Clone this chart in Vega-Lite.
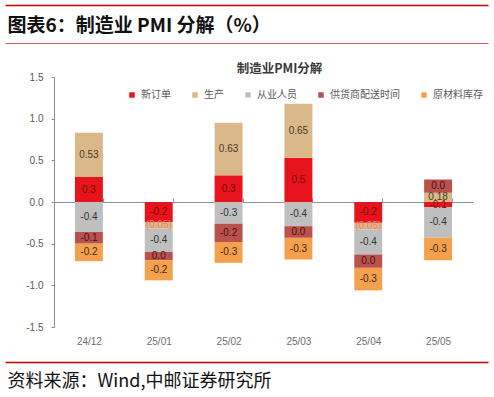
{
  "$schema": "https://vega.github.io/schema/vega-lite/v6.json",
  "width": 483,
  "height": 357,
  "autosize": "none",
  "padding": {"left": 5, "top": 5, "right": 6, "bottom": 35},
  "background": "white",
  "config": {"view": {"stroke": null}},
  "layer": [
    {
      "data": {"values": [
        {"month": "24/12", "series": "新订单", "value": 0.30, "label": "0.3"},
        {"month": "24/12", "series": "生产", "value": 0.53, "label": "0.53"},
        {"month": "24/12", "series": "从业人员", "value": -0.36, "label": "-0.4"},
        {"month": "24/12", "series": "供货商配送时间", "value": -0.14, "label": "-0.1"},
        {"month": "24/12", "series": "原材料库存", "value": -0.21, "label": "-0.2"},
        {"month": "25/01", "series": "新订单", "value": -0.24, "label": "-0.2"},
        {"month": "25/01", "series": "生产", "value": -0.08, "label": "(0.05)"},
        {"month": "25/01", "series": "从业人员", "value": -0.28, "label": "-0.4"},
        {"month": "25/01", "series": "供货商配送时间", "value": -0.10, "label": "0.0"},
        {"month": "25/01", "series": "原材料库存", "value": -0.24, "label": "-0.2"},
        {"month": "25/02", "series": "新订单", "value": 0.32, "label": "0.3"},
        {"month": "25/02", "series": "生产", "value": 0.63, "label": "0.63"},
        {"month": "25/02", "series": "从业人员", "value": -0.26, "label": "-0.3"},
        {"month": "25/02", "series": "供货商配送时间", "value": -0.22, "label": "-0.2"},
        {"month": "25/02", "series": "原材料库存", "value": -0.25, "label": "-0.3"},
        {"month": "25/03", "series": "新订单", "value": 0.53, "label": "0.5"},
        {"month": "25/03", "series": "生产", "value": 0.65, "label": "0.65"},
        {"month": "25/03", "series": "从业人员", "value": -0.29, "label": "-0.4"},
        {"month": "25/03", "series": "供货商配送时间", "value": -0.14, "label": "0.0"},
        {"month": "25/03", "series": "原材料库存", "value": -0.26, "label": "-0.3"},
        {"month": "25/04", "series": "新订单", "value": -0.25, "label": "-0.2"},
        {"month": "25/04", "series": "生产", "value": -0.08, "label": "(0.05)"},
        {"month": "25/04", "series": "从业人员", "value": -0.30, "label": "-0.4"},
        {"month": "25/04", "series": "供货商配送时间", "value": -0.16, "label": "0.0"},
        {"month": "25/04", "series": "原材料库存", "value": -0.27, "label": "-0.3"},
        {"month": "25/05", "series": "新订单", "value": -0.06, "label": "-0.1"},
        {"month": "25/05", "series": "生产", "value": 0.11, "label": "0.18"},
        {"month": "25/05", "series": "从业人员", "value": -0.37, "label": "-0.4"},
        {"month": "25/05", "series": "供货商配送时间", "value": 0.16, "label": "0.0"},
        {"month": "25/05", "series": "原材料库存", "value": -0.27, "label": "-0.3"}
      ]},
      "transform": [
        {"calculate": "indexof(['新订单','生产','从业人员','供货商配送时间','原材料库存'], datum.series)", "as": "k"},
        {"stack": "value", "groupby": ["month"], "sort": [{"field": "k", "order": "ascending"}], "offset": "zero", "as": ["v0", "v1"]},
        {"calculate": "(datum.v0 + datum.v1) / 2", "as": "mid"}
      ],
      "layer": [
        {
          "mark": {"type": "bar"},
          "encoding": {
            "x": {
              "field": "month", "type": "nominal", "sort": null,
              "scale": {"range": [49, 468], "paddingInner": 0.6, "paddingOuter": 0.3},
              "axis": {
                "orient": "bottom", "offset": -160, "title": null,
                "domainColor": "#8a94a6", "tickColor": "#8a94a6", "tickSize": -4, "tickBand": "extent",
                "labelPadding": 138, "labelFont": "Liberation Sans", "labelFontSize": 10,
                "labelColor": "#6e6e6e", "labelAngle": 0, "grid": false
              }
            },
            "y": {
              "field": "v1", "type": "quantitative",
              "scale": {"domain": [-1.5, 1.5], "range": [322, 72], "nice": false, "zero": false},
              "axis": {
                "orient": "left", "offset": -49, "title": null, "grid": false,
                "values": [-1.5, -1, -0.5, 0, 0.5, 1, 1.5], "format": ".1f",
                "labelExpr": "replace(datum.label, '\u2212', '-')",
                "domainColor": "#8c8c8c", "tickColor": "#8c8c8c", "tickSize": 3, "labelPadding": 8,
                "labelFont": "Liberation Sans", "labelFontSize": 10, "labelColor": "#595959"
              }
            },
            "y2": {"field": "v0"},
            "color": {
              "field": "series", "type": "nominal",
              "scale": {
                "domain": ["新订单", "生产", "从业人员", "供货商配送时间", "原材料库存"],
                "range": ["#e8141c", "#dbb889", "#bfbfbf", "#b9524e", "#f5a04c"]
              },
              "legend": {
                "orient": "none", "legendX": 122, "legendY": 85, "direction": "horizontal", "columns": 5,
                "title": null, "symbolType": "square", "symbolSize": 30, "symbolStrokeWidth": 0,
                "columnPadding": 19, "labelOffset": 4, "padding": 0,
                "labelFont": "Noto Sans CJK SC", "labelFontSize": 10, "labelColor": "#595959",
                "encode": {"symbols": {"update": {"fill": {"signal": "datum.value === '新订单' ? '#c0101a' : datum.value === '生产' ? '#d9c390' : datum.value === '从业人员' ? '#c4c4c4' : datum.value === '供货商配送时间' ? '#6f5f9f' : '#82b05c'"}}}}
              }
            }
          }
        },
        {
          "mark": {"type": "text", "font": "Liberation Sans", "fontSize": 10, "baseline": "middle", "align": "center"},
          "encoding": {
            "x": {"field": "month", "type": "nominal", "sort": null},
            "y": {"field": "mid", "type": "quantitative"},
            "text": {"field": "label"},
            "fill": {
              "condition": {"test": "datum.series === '生产' && datum.value < 0", "value": "#f08070"},
              "field": "series", "type": "nominal",
              "scale": {
                "domain": ["新订单", "生产", "从业人员", "供货商配送时间", "原材料库存"],
                "range": ["#7a0a0a", "#4a3a22", "#333333", "#4a1010", "#3a2a12"]
              },
              "legend": null
            }
          }
        }
      ]
    },
    {
      "data": {"values": [{"d": 0}, {"d": 1}]},
      "mark": {"type": "rule", "opacity": 0},
      "encoding": {
        "x": {
          "field": "d", "type": "quantitative", "scale": {"domain": [0, 1], "nice": false, "zero": false},
          "axis": {
            "orient": "top", "offset": 0, "domainColor": "#c00000", "domainWidth": 1.5,
            "ticks": false, "labels": false, "grid": false,
            "title": "图表6：制造业 PMI 分解（%）", "titleX": 2, "titleY": 20, "titleAlign": "left",
            "titleBaseline": "middle", "titleFont": "Noto Sans CJK SC", "titleFontSize": 19,
            "titleFontWeight": "bold", "titleColor": "#111111"
          }
        }
      }
    },
    {
      "data": {"values": [{"d": 0}, {"d": 1}]},
      "mark": {"type": "rule", "opacity": 0},
      "encoding": {
        "x": {
          "field": "d", "type": "quantitative", "scale": {"domain": [0, 1], "nice": false, "zero": false},
          "axis": {
            "orient": "top", "offset": -38, "domainColor": "#d85a5a", "domainWidth": 1,
            "ticks": false, "labels": false, "grid": false,
            "title": "制造业PMI分解", "titleX": 274, "titleY": 25, "titleAlign": "center",
            "titleBaseline": "middle", "titleFont": "Noto Sans CJK SC", "titleFontSize": 12.5,
            "titleFontWeight": "bold", "titleColor": "#3a3a3a"
          }
        }
      }
    },
    {
      "data": {"values": [{"d": 0}, {"d": 1}]},
      "mark": {"type": "rule", "opacity": 0},
      "encoding": {
        "x": {
          "field": "d", "type": "quantitative", "scale": {"domain": [0, 1], "nice": false, "zero": false},
          "axis": {
            "orient": "bottom", "offset": 0, "domainColor": "#c00000", "domainWidth": 1.5,
            "ticks": false, "labels": false, "grid": false,
            "title": "资料来源：Wind,中邮证券研究所", "titleX": 2, "titleY": 19, "titleAlign": "left",
            "titleBaseline": "middle", "titleFont": "Noto Sans CJK SC", "titleFontSize": 18,
            "titleFontWeight": "normal", "titleColor": "#111111"
          }
        }
      }
    }
  ],
  "resolve": {"scale": {"x": "independent"}, "axis": {"x": "independent"}}
}
